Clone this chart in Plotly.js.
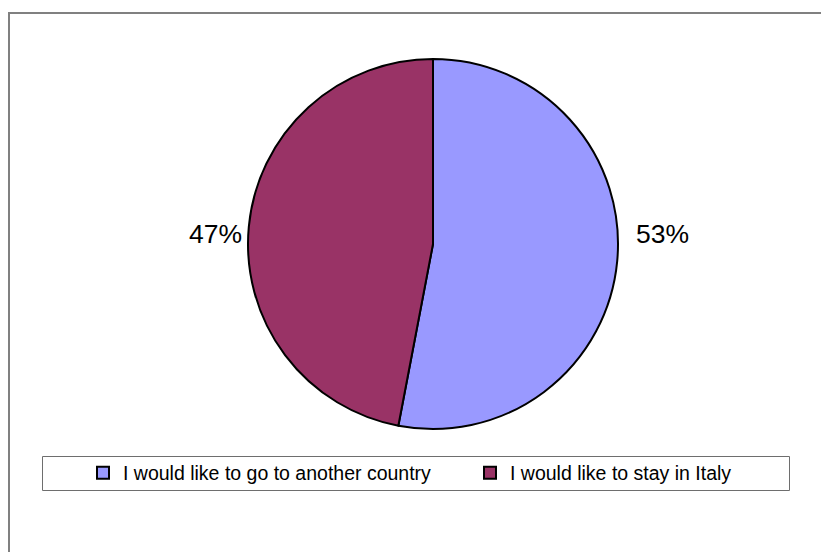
<!DOCTYPE html>
<html>
<head>
<meta charset="utf-8">
<script src="https://cdn.plot.ly/plotly-3.0.1.min.js"></script>
<style>html,body{margin:0;padding:0;background:#fff;}#chart{width:821px;height:552px;}</style>
</head>
<body>
<div id="chart"></div>
<script>
const categories = ["I would like to go to another country", "I would like to stay in Italy"];
const values = [53, 47];
const colors = ["#9999FF", "#993366"];

const W = 821, H = 552;
const px = x => x / W;
const py = y => (H - y) / H;

const cx = 433, cy = 244, r = 185;
const FONT = "Liberation Sans, Arial, sans-serif";

// percentage labels placed beside the pie, side chosen from each slice's mid-angle
const total = values.reduce((a, b) => a + b, 0);
let cum = 0;
const annotations = values.map(v => {
  const mid = (cum + v / 2) / total * 2 * Math.PI; // clockwise from 12 o'clock
  cum += v;
  const right = Math.sin(mid) >= 0;
  return {
    xref: "paper", yref: "paper",
    x: px(right ? cx + r + 16 : cx - r - 4),
    y: py(cy - 10),
    xanchor: right ? "left" : "right",
    yanchor: "middle",
    text: Math.round(v / total * 100) + "%",
    showarrow: false,
    font: {family: FONT, size: 26.5, color: "#000000"}
  };
});

const data = [{
  type: "pie",
  labels: categories,
  values: values,
  sort: false,
  direction: "clockwise",
  rotation: 0,
  marker: {colors: colors, line: {color: "#000000", width: 2}},
  textinfo: "none",
  hoverinfo: "none",
  domain: {x: [px(cx - r), px(cx + r)], y: [py(cy + r), py(cy - r)]}
}];

const layout = {
  width: W, height: H,
  margin: {l: 0, r: 0, t: 0, b: 0},
  paper_bgcolor: "#ffffff",
  showlegend: true,
  font: {family: FONT, color: "#000000"},
  legend: {
    orientation: "h",
    x: px(43), xanchor: "left",
    y: py(473), yanchor: "middle",
    font: {family: FONT, size: 19.5, color: "#000000"},
    bgcolor: "rgba(0,0,0,0)",
    borderwidth: 0,
    indentation: 40,
    entrywidth: 302,
    entrywidthmode: "pixels",
    traceorder: "normal"
  },
  annotations: annotations,
  shapes: [
    {type: "rect", xref: "paper", yref: "paper", x0: px(9), x1: 1.2, y0: -0.2, y1: py(13),
     line: {color: "#808080", width: 2}, fillcolor: "rgba(0,0,0,0)", layer: "below"},
    {type: "rect", xref: "paper", yref: "paper", x0: px(42.5), x1: px(789.5), y0: py(490.5), y1: py(456.5),
     line: {color: "#6e6e6e", width: 1}, fillcolor: "rgba(0,0,0,0)", layer: "below"}
  ]
};

Plotly.newPlot("chart", data, layout, {staticPlot: true, displayModeBar: false});
</script>
</body>
</html>
